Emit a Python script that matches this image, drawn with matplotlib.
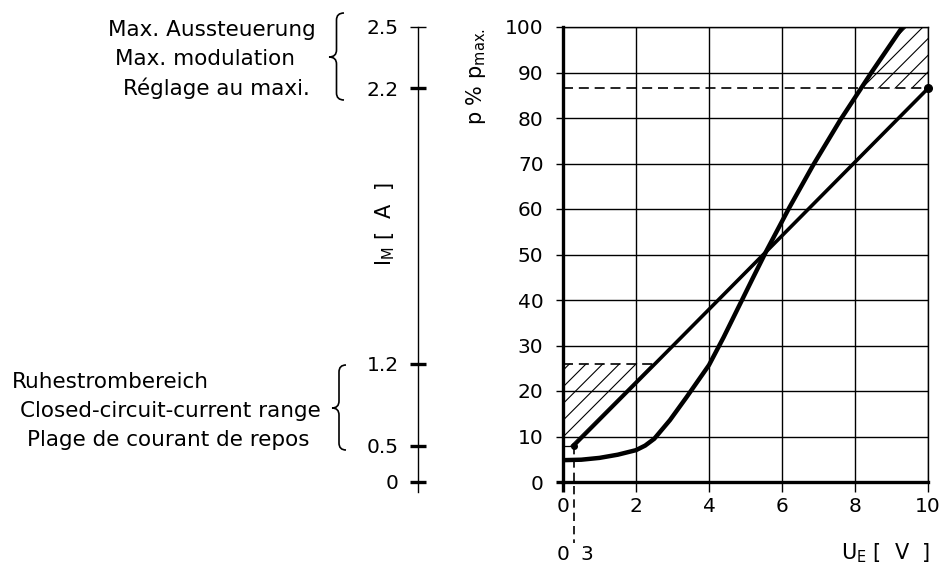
import numpy as np
import matplotlib
matplotlib.use("Agg")
import matplotlib.pyplot as plt
from matplotlib.path import Path
from matplotlib.patches import PathPatch

# data
curve_x = [0, 0.5, 1.0, 1.5, 2.0, 2.25, 2.5, 2.93, 3.39, 4.0, 4.4, 4.8, 5.2, 5.58, 6.2, 6.85, 7.6, 8.45, 9.3]
curve_p = [4.8, 4.9, 5.3, 6.0, 7.0, 8.0, 9.5, 13.6, 18.7, 25.7, 31.8, 38.3, 44.8, 50.9, 60.3, 69.6, 79.6, 90, 100]
line_x = [0.3, 10]
line_p = [8, 86.5]
low_band = [8, 26]        # closed-circuit-current range, p %
high_band = [86.5, 100]   # max. modulation, p %
im_ticks_p = [0, 8, 26, 86.5, 100]
im_labels = ["0", "0.5", "1.2", "2.2", "2.5"]

W, H = 947, 567
plt.rcParams["hatch.linewidth"] = 0.8
plt.rcParams["font.size"] = 14

fig = plt.figure(figsize=(W / 100, H / 100), dpi=100)


def fx(px):
    return px / W


def fy(py):
    return 1 - py / H


ax = fig.add_axes([fx(563), fy(482), 365 / W, 455 / H])
ax.set_xlim(0, 10)
ax.set_ylim(0, 100)
ax.set_xticks(range(0, 11, 2))
ax.set_yticks(range(0, 101, 10))
ax.grid(True, color="black", lw=1.0)
ax.set_axisbelow(True)
for s in ["left", "bottom"]:
    ax.spines[s].set_linewidth(2.4)
for s in ["top", "right"]:
    ax.spines[s].set_linewidth(1.0)
ax.tick_params(axis="y", length=5, width=1.0, pad=9, labelsize=14.5)
ax.tick_params(axis="x", length=7, width=1.0, pad=4, labelsize=14.5)
ax.yaxis.get_major_ticks()[0].tick1line.set_markeredgewidth(2.4)
ax.xaxis.get_major_ticks()[0].tick1line.set_markeredgewidth(2.4)

# hatched low band
xl_top = np.interp(low_band[1], line_p, line_x)
ax.fill([0, line_x[0], xl_top, 0], [low_band[0], low_band[0], low_band[1], low_band[1]],
        facecolor="none", edgecolor="black", hatch="//", lw=0)
ax.plot([0, line_x[0]], [low_band[0], low_band[0]], color="black", lw=0.9)
ax.plot([0, xl_top], [low_band[1], low_band[1]], color="black", lw=1.2, dashes=(6, 3.5))

# hatched high band
xc_lo = np.interp(high_band[0], curve_p, curve_x)
cx = np.array(curve_x)
cp = np.array(curve_p)
sel = cp > high_band[0]
poly_x = [xc_lo] + list(cx[sel]) + [10, 10]
poly_p = [high_band[0]] + list(cp[sel]) + [high_band[1], high_band[0]]
ax.fill(poly_x, poly_p, facecolor="none", edgecolor="black", hatch="//", lw=0)
ax.plot([0, 10], [high_band[0], high_band[0]], color="black", lw=1.2, dashes=(6, 3.5))

# curves
ax.plot(curve_x, curve_p, color="black", lw=3.2, solid_joinstyle="round", zorder=5)
ax.plot(line_x, line_p, color="black", lw=2.6, zorder=5)
ax.plot([line_x[1]], [line_p[1]], "o", color="black", ms=5.5, zorder=6, clip_on=False)
ax.plot([line_x[0]], [line_p[0]], "o", color="black", ms=4, zorder=6)
ax.plot([line_x[0], line_x[0]], [line_p[0], -13.4], color="black", lw=1.2,
        dashes=(5, 3), clip_on=False)
ax.text(0, -16, "0", ha="center", va="center", fontsize=14.5)
ax.text(0.65, -16, "3", ha="center", va="center", fontsize=14.5)

fig.text(fx(886), fy(553), r"U$_\mathregular{E}$ [  V  ]", ha="center", va="center", fontsize=15)
fig.text(fx(476), fy(77), r"p % p$_\mathregular{max.}$", ha="center", va="center",
         rotation=90, fontsize=15)

# left I_M axis
ax2 = fig.add_axes([fx(418), fy(492), 0.0005, 465 / H])
ax2.set_ylim(-2.2, 100)
for s in ["top", "right", "bottom"]:
    ax2.spines[s].set_visible(False)
ax2.spines["left"].set_linewidth(1.0)
ax2.patch.set_visible(False)
ax2.set_xticks([])
ax2.set_yticks(im_ticks_p)
ax2.set_yticklabels(im_labels)
ax2.tick_params(axis="y", direction="inout", length=12, width=2.4, pad=8, labelsize=14.5)
ax2.yaxis.get_major_ticks()[-1].tick1line.set_markeredgewidth(1.0)
fig.text(fx(385), fy(224), r"I$_\mathregular{M}$ [  A  ]", ha="center", va="center",
         rotation=90, fontsize=15)


def brace(xl, xr, ytop, ybot, ytip, c=7):
    xm = (xl + xr) / 2
    pts = [(xr, ytop), (xm, ytop), (xm, ytop + c), (xm, ytip - c), (xm, ytip), (xl, ytip),
           (xm, ytip), (xm, ytip + c), (xm, ybot - c), (xm, ybot), (xr, ybot)]
    codes = [Path.MOVETO, Path.CURVE3, Path.CURVE3, Path.LINETO, Path.CURVE3, Path.CURVE3,
             Path.CURVE3, Path.CURVE3, Path.LINETO, Path.CURVE3, Path.CURVE3]
    verts = [(fx(a), fy(b)) for a, b in pts]
    fig.add_artist(PathPatch(Path(verts, codes), transform=fig.transFigure,
                             facecolor="none", edgecolor="black", lw=1.2))


brace(329, 344, 13, 100, 57)
brace(332, 346, 365, 450, 408)

top_lines = [("Max. Aussteuerung", 108, 36), ("Max. modulation", 115, 65),
             ("Réglage au maxi.", 123, 95)]
bot_lines = [("Ruhestrombereich", 12, 388), ("Closed-circuit-current range", 20, 417),
             ("Plage de courant de repos", 27, 446)]
for t, x, y in top_lines + bot_lines:
    fig.text(fx(x), fy(y), t, ha="left", va="baseline", fontsize=15.5)

fig.savefig("out.png", dpi=100)
